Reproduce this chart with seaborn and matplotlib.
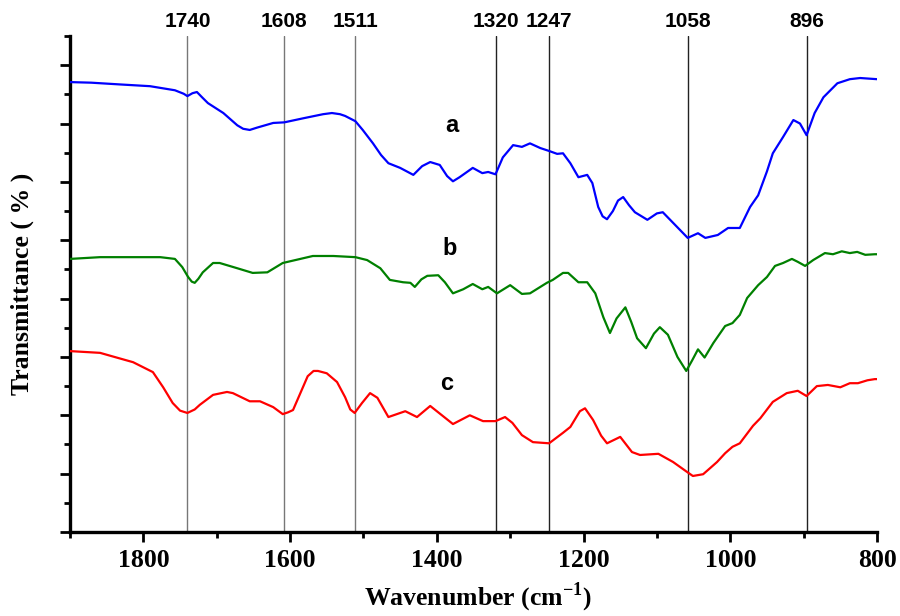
import matplotlib
matplotlib.use("Agg")
import matplotlib.pyplot as plt
import matplotlib.transforms as mtransforms
from matplotlib.ticker import MultipleLocator
import seaborn as sns
import pandas as pd

# ---- data ----
wn_a = [1900, 1871, 1832, 1791, 1757, 1745, 1740, 1733, 1727, 1720, 1712, 1691, 1672,
        1664, 1655, 1645, 1623, 1608, 1582, 1555, 1543, 1532, 1525, 1511, 1501, 1487,
        1476, 1466, 1450, 1432, 1420, 1409, 1396, 1386, 1378, 1369, 1351, 1338, 1330,
        1320, 1310, 1296, 1284, 1273, 1259, 1247, 1236, 1228, 1218, 1207, 1195, 1188,
        1180, 1174, 1168, 1160, 1153, 1146, 1138, 1130, 1113, 1100, 1092, 1075, 1058,
        1044, 1034, 1017, 1003, 987, 973, 962, 950, 942, 928, 914, 905, 896, 885, 873,
        854, 837, 823, 800]
t_a = [77.1, 77.0, 76.7, 76.4, 75.7, 75.1, 74.7, 75.2, 75.4, 74.5, 73.5, 71.8, 69.7,
       69.1, 68.9, 69.3, 70.1, 70.2, 70.9, 71.6, 71.8, 71.6, 71.3, 70.4, 68.9, 66.6,
       64.6, 63.2, 62.4, 61.2, 62.7, 63.4, 62.9, 61.0, 60.1, 60.8, 62.4, 61.5, 61.7,
       61.3, 64.2, 66.3, 66.0, 66.6, 65.8, 65.3, 64.8, 64.9, 63.2, 60.8, 61.2, 59.8,
       55.7, 54.1, 53.6, 55.0, 56.8, 57.4, 56.0, 54.8, 53.5, 54.6, 54.8, 52.6, 50.4,
       51.2, 50.4, 50.9, 52.1, 52.1, 55.7, 57.7, 61.8, 64.9, 67.7, 70.6, 70.0, 68.0,
       71.8, 74.5, 76.9, 77.6, 77.8, 77.6]

wn_b = [1900, 1859, 1818, 1777, 1757, 1747, 1739, 1734, 1730, 1725, 1719, 1705, 1696,
        1672, 1651, 1631, 1610, 1586, 1569, 1541, 1511, 1495, 1477, 1464, 1446, 1436,
        1430, 1421, 1413, 1398, 1389, 1378, 1364, 1351, 1338, 1330, 1318, 1300, 1284,
        1273, 1250, 1242, 1228, 1221, 1207, 1195, 1184, 1173, 1164, 1155, 1143, 1135,
        1127, 1115, 1104, 1096, 1085, 1072, 1060, 1052, 1044, 1035, 1023, 1007, 997,
        987, 977, 962, 950, 939, 928, 916, 908, 898, 887, 871, 860, 848, 837, 827, 816,
        803, 800]
t_b = [46.8, 47.1, 47.1, 47.1, 46.8, 45.4, 43.7, 42.9, 42.7, 43.4, 44.5, 46.1, 46.1,
       45.2, 44.4, 44.5, 46.1, 46.8, 47.3, 47.3, 47.1, 46.6, 45.2, 43.2, 42.8, 42.7,
       42.0, 43.3, 43.9, 44.0, 42.8, 40.9, 41.6, 42.5, 41.6, 42.0, 40.9, 42.3, 40.8,
       40.9, 42.7, 43.2, 44.4, 44.4, 42.8, 42.8, 40.9, 36.8, 34.1, 36.6, 38.5, 36.0,
       33.2, 31.5, 34.0, 35.1, 33.8, 30.0, 27.6, 29.4, 31.3, 29.9, 32.4, 35.3, 35.8,
       37.2, 40.1, 42.3, 43.7, 45.6, 46.1, 46.8, 46.3, 45.6, 46.6, 47.8, 47.6, 48.1,
       47.8, 48.0, 47.5, 47.6, 47.6]

wn_c = [1900, 1859, 1845, 1814, 1787, 1773, 1760, 1750, 1740, 1730, 1723, 1705, 1686,
        1678, 1655, 1641, 1623, 1610, 1603, 1596, 1586, 1576, 1568, 1562, 1550, 1536,
        1525, 1518, 1512, 1502, 1491, 1481, 1466, 1443, 1427, 1409, 1393, 1378, 1355,
        1337, 1320, 1307, 1297, 1284, 1269, 1247, 1228, 1218, 1205, 1198, 1187, 1176,
        1168, 1150, 1134, 1123, 1098, 1078, 1059, 1051, 1037, 1027, 1018, 1007, 997,
        987, 969, 959, 942, 923, 908, 896, 882, 867, 850, 837, 826, 813, 803, 800]
t_c = [31.0, 30.7, 30.2, 29.1, 27.4, 24.8, 22.1, 20.8, 20.4, 21.0, 21.8, 23.5, 24.0,
       23.8, 22.4, 22.4, 21.4, 20.2, 20.5, 20.9, 23.8, 26.7, 27.6, 27.6, 27.2, 25.7,
       23.1, 21.0, 20.4, 22.1, 23.8, 23.0, 19.7, 20.7, 19.7, 21.6, 20.0, 18.5, 20.0,
       19.0, 19.0, 19.7, 18.7, 16.6, 15.4, 15.2, 17.0, 18.0, 20.7, 21.2, 19.2, 16.5,
       15.2, 16.3, 13.7, 13.2, 13.4, 12.0, 10.3, 9.6, 9.9, 11.0, 12.0, 13.5, 14.6,
       15.2, 18.2, 19.5, 22.3, 23.8, 24.2, 23.3, 25.0, 25.2, 24.8, 25.5, 25.5, 26.0,
       26.2, 26.2]

peaks = [1740, 1608, 1511, 1320, 1247, 1058, 896]
peak_labels = ["1740", "1608", "1511", "1320", "1247", "1058", "896"]
series_names = ["a", "b", "c"]
series_colors = ["#0000ff", "#008000", "#ff0000"]
letter_x = [1379, 1382, 1386]
letter_y = [69.7, 48.6, 25.5]

# ---- figure ----
sns.set_theme(style="ticks")
plt.rcParams["font.family"] = ["Liberation Serif", "DejaVu Serif"]
plt.rcParams["mathtext.fontset"] = "custom"
plt.rcParams["mathtext.rm"] = "Liberation Serif"
plt.rcParams["mathtext.bf"] = "Liberation Serif:bold"
plt.rcParams["text.color"] = "black"
plt.rcParams["axes.labelcolor"] = "black"
plt.rcParams["xtick.color"] = "black"
plt.rcParams["ytick.color"] = "black"

fig = plt.figure(figsize=(9, 6.16), dpi=100)
ax = fig.add_axes([70 / 900, 84 / 616, 807 / 900, 496 / 616])

frames = []
for name, wn, t in zip(series_names, [wn_a, wn_b, wn_c], [t_a, t_b, t_c]):
    frames.append(pd.DataFrame({"wn": wn, "t": t, "s": name}))
df = pd.concat(frames, ignore_index=True)

sns.lineplot(data=df, x="wn", y="t", hue="s", palette=series_colors, sort=False,
             estimator=None, lw=1.6, legend=False, ax=ax, zorder=3)
for ln in ax.lines:
    ln.set_solid_joinstyle("round")
    ln.set_solid_capstyle("round")

ax.set_xlim(1900, 800)
ax.set_ylim(0, 85)

for p in peaks:
    col = "#777777" if p > 1500 else "#222222"
    ax.axvline(p, color=col, lw=1.0, zorder=1)

trans = mtransforms.blended_transform_factory(ax.transData, ax.transAxes)
for p, lab in zip(peaks, peak_labels):
    ax.text(p, 1.03, lab, transform=trans, ha="center", va="center", color="black",
            fontsize=15, fontweight="bold", family="Liberation Sans", clip_on=False)

for n, x, y in zip(series_names, letter_x, letter_y):
    ax.text(x, y, n, ha="center", va="center", fontsize=17, fontweight="bold",
            color="black", family="Liberation Sans")

ax.xaxis.set_major_locator(MultipleLocator(200))
ax.xaxis.set_minor_locator(MultipleLocator(100))
ax.yaxis.set_major_locator(MultipleLocator(10))
ax.yaxis.set_minor_locator(MultipleLocator(5))
ax.set_yticklabels([])
ax.tick_params(axis="both", which="major", direction="out", length=7, width=2, color="black")
ax.tick_params(axis="both", which="minor", direction="out", length=4, width=2, color="black")
ax.tick_params(axis="x", labelsize=18.5, pad=5, labelcolor="black")
for lab in ax.get_xticklabels():
    lab.set_fontweight("bold")

for s in ["top", "right"]:
    ax.spines[s].set_visible(False)
for s in ["left", "bottom"]:
    ax.spines[s].set_linewidth(2.4)
    ax.spines[s].set_color("black")

ax.set_xlabel(r"Wavenumber (cm$^{\mathbf{-1}}$)", fontsize=18.5, fontweight="bold")
ax.set_ylabel("Transmittance ( % )", fontsize=18.5, fontweight="bold")
ax.xaxis.set_label_coords(0.505, -0.097)
ax.yaxis.set_label_coords(-0.045, 0.5)

fig.savefig("out.png", dpi=100, facecolor="white")
